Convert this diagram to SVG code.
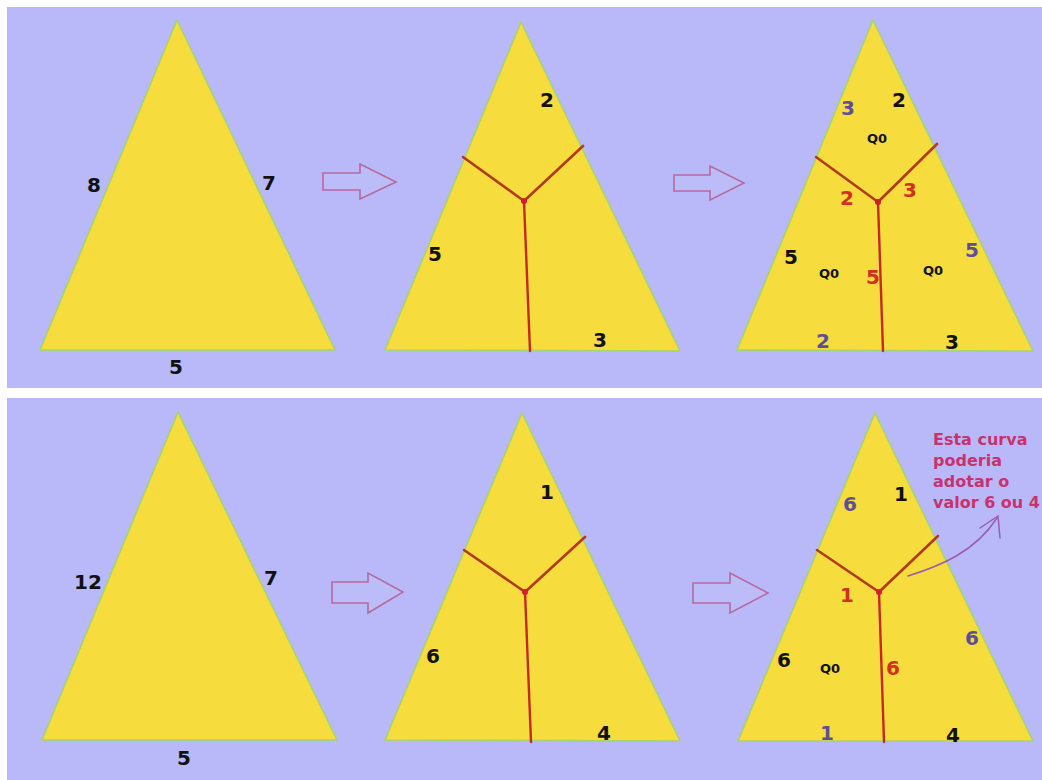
<svg xmlns="http://www.w3.org/2000/svg" width="1042" height="780" viewBox="0 0 1042 780">
<style>
.bg{fill:#b9b9f9}
.tri{fill:#f6dc3c;stroke:#a6d46e;stroke-width:1.6;stroke-linejoin:round}
.cut{fill:none;stroke:#b23a1e;stroke-width:2.6;stroke-linecap:round;stroke-linejoin:round}
.stem{fill:none;stroke:#c42a22;stroke-width:2.4;stroke-linecap:round}
.dot{fill:#d41e28}
.n{font-family:"DejaVu Sans",Verdana,sans-serif;font-weight:bold;font-size:20px;text-anchor:middle}
.k{fill:#111}
.p{fill:#5c4f98}
.r{fill:#d0321e}
.q{font-family:"DejaVu Sans",Verdana,sans-serif;font-weight:bold;font-size:13px;text-anchor:middle;fill:#111}
.arr{fill:#bcbcf8;stroke:#b66a9e;stroke-width:1.6;stroke-linejoin:miter}
.note{font-family:"DejaVu Sans",Verdana,sans-serif;font-weight:bold;font-size:16px;fill:#c8326e}
.curve{fill:none;stroke:#9a5cae;stroke-width:1.5;stroke-linecap:round}
</style>
<rect x="0" y="0" width="1042" height="780" fill="#ffffff"/>
<rect class="bg" x="7" y="7" width="1035" height="381"/>
<rect class="bg" x="7" y="398" width="1035" height="382"/>

<g id="t1">
<polygon class="tri" points="177,20 40,350 335,350"/>
<text class="n k" x="94" y="192">8</text>
<text class="n k" x="269" y="190">7</text>
<text class="n k" x="176" y="374">5</text>
</g>

<g id="t2">
<polygon class="tri" points="521,22 385,350 680,351"/>
<polyline class="cut" points="463,157 524,201 583,146"/>
<line class="stem" x1="524" y1="201" x2="530" y2="351"/>
<circle class="dot" cx="524" cy="201" r="3"/>
<text class="n k" x="547" y="107">2</text>
<text class="n k" x="435" y="261">5</text>
<text class="n k" x="600" y="347">3</text>
</g>

<g id="t3">
<polygon class="tri" points="873,20 737,350 1033,351"/>
<polyline class="cut" points="816,157 878,202 937,144"/>
<line class="stem" x1="878" y1="202" x2="883" y2="351"/>
<circle class="dot" cx="878" cy="202" r="3"/>
<text class="n p" x="848" y="115">3</text>
<text class="n k" x="899" y="107">2</text>
<text class="q" x="877" y="143">Q0</text>
<text class="n r" x="847" y="205">2</text>
<text class="n r" x="910" y="197">3</text>
<text class="n k" x="791" y="264">5</text>
<text class="q" x="829" y="278">Q0</text>
<text class="n r" x="873" y="284">5</text>
<text class="q" x="933" y="275">Q0</text>
<text class="n p" x="972" y="257">5</text>
<text class="n p" x="823" y="348">2</text>
<text class="n k" x="952" y="349">3</text>
</g>

<g id="b1">
<polygon class="tri" points="178,412 42,740 337,740"/>
<text class="n k" x="88" y="589">12</text>
<text class="n k" x="271" y="585">7</text>
<text class="n k" x="184" y="765">5</text>
</g>

<g id="b2">
<polygon class="tri" points="522,413 385,740 680,741"/>
<polyline class="cut" points="464,550 525,592 585,537"/>
<line class="stem" x1="525" y1="592" x2="531" y2="742"/>
<circle class="dot" cx="525" cy="592" r="3"/>
<text class="n k" x="547" y="499">1</text>
<text class="n k" x="433" y="663">6</text>
<text class="n k" x="604" y="740">4</text>
</g>

<g id="b3">
<polygon class="tri" points="875,413 738,741 1033,741"/>
<polyline class="cut" points="817,550 879,592 938,536"/>
<line class="stem" x1="879" y1="592" x2="884" y2="742"/>
<circle class="dot" cx="879" cy="592" r="3"/>
<text class="n p" x="850" y="511">6</text>
<text class="n k" x="901" y="501">1</text>
<text class="n r" x="847" y="602">1</text>
<text class="n k" x="784" y="667">6</text>
<text class="q" x="830" y="673">Q0</text>
<text class="n r" x="893" y="675">6</text>
<text class="n p" x="972" y="645">6</text>
<text class="n p" x="827" y="740">1</text>
<text class="n k" x="953" y="742">4</text>
</g>

<g id="note">
<text class="note" x="933" y="445">Esta curva</text>
<text class="note" x="933" y="466">poderia</text>
<text class="note" x="933" y="487">adotar o</text>
<text class="note" x="933" y="508">valor 6 ou 4</text>
</g>

<g id="connectors">
<path class="arr" d="M323,173 H360 V164 L396,182 L360,199 V190 H323 Z"/>
<path class="arr" d="M674,175 H710 V166 L744,183 L710,200 V191 H674 Z"/>
<path class="arr" d="M332,582 H368 V573 L403,592 L368,613 V603 H332 Z"/>
<path class="arr" d="M693,583 H730 V573 L768,593 L730,613 V603 H693 Z"/>
<path class="curve" d="M908,576 C940,566 975,552 997,518"/>
<path class="curve" d="M980,528 L998,516 L1000,538"/>
</g>
</svg>
